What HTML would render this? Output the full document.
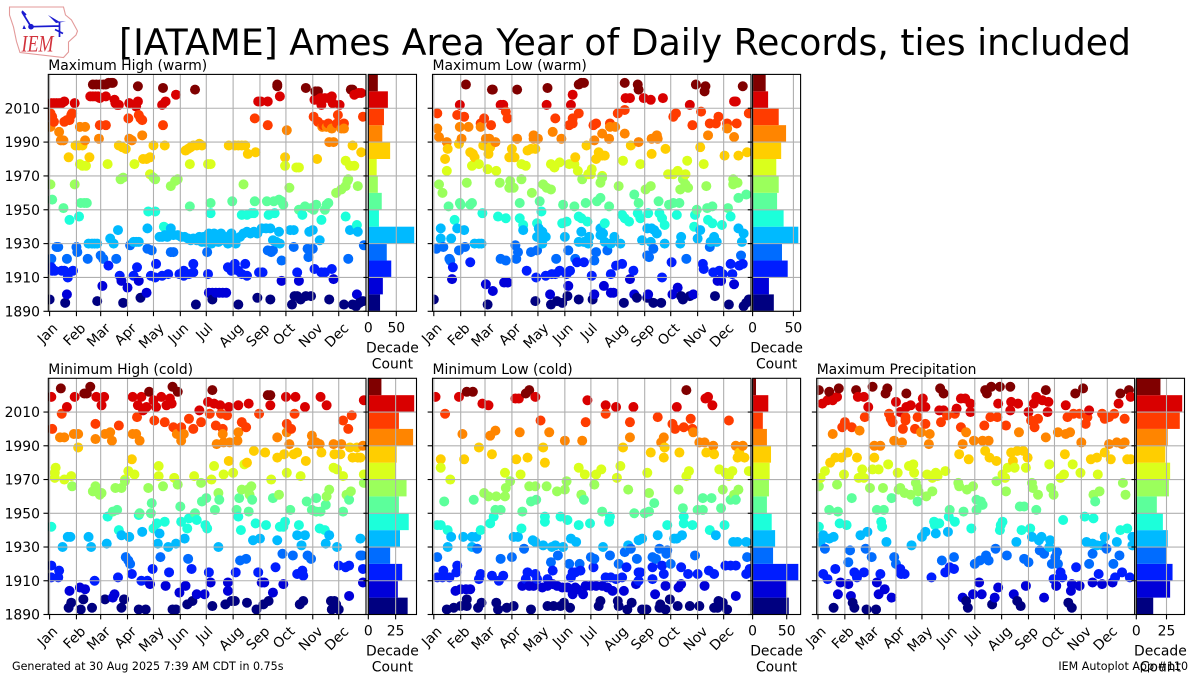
<!DOCTYPE html>
<html lang="en">
<head>
<meta charset="utf-8">
<title>[IATAME] Ames Area Year of Daily Records, ties included</title>
<style>
html,body{margin:0;padding:0;background:#fff;}
svg{display:block;font-family:"DejaVu Sans","Liberation Sans",sans-serif;}
</style>
</head>
<body>
<svg id="chart" xmlns="http://www.w3.org/2000/svg" width="1200" height="675" viewBox="0 0 1200 675">
<rect width="1200" height="675" fill="#fff"/>
<g>
<path d="M9.5 7L63.5 7L65.5 15L71.5 20L77.5 31L76 35L68.5 42L68.5 52L63.5 57.5L20 52.5L16.5 41.5L13.5 27L9.5 15Z" fill="#fff" stroke="#e39a9a" stroke-width="1.1"/>
<path d="M31 26.7L59 26M22 12L30 25M59.5 21.5L59.5 37M55 29.5L63 33.5M22 11L26 15" fill="none" stroke="#1a1ad0" stroke-width="1.7"/>
<path d="M48 15L59 21.5L66 21.5L56 23Z" fill="#1a1ad0"/>
<path d="M24 25L26 29L22.5 29Z" fill="#1a1ad0"/>
<circle cx="31" cy="26.7" r="2.8" fill="#1a1ad0"/>
<text x="21.5" y="51.5" textLength="32" lengthAdjust="spacingAndGlyphs" font-family="'Liberation Serif',serif" font-style="italic" font-size="23" fill="#d2323c">IEM</text>
</g>
<text x="625" y="55" text-anchor="middle" font-size="36.15" fill="#000">[IATAME] Ames Area Year of Daily Records, ties included</text>
<g id="panels"></g>
<text x="12" y="670" font-size="11.1" fill="#000">Generated at 30 Aug 2025 7:39 AM CDT in 0.75s</text>
<text x="1188" y="670" text-anchor="end" font-size="11.1" fill="#000">IEM Autoplot App #110</text>
</svg>
<script>
// Tick labels and category values
const monthLabels = ["Jan","Feb","Mar","Apr","May","Jun","Jul","Aug","Sep","Oct","Nov","Dec"];
const monthStartDays = [0,31,59,90,120,151,181,212,243,273,304,334];
const yearTicks = [1890,1910,1930,1950,1970,1990,2010];
const decadeStarts = [1890,1900,1910,1920,1930,1940,1950,1960,1970,1980,1990,2000,2010,2020];

// Decade histogram counts (same order as decadeStarts)
const maxHighDecadeCounts = [21,26,41,33,82,19,24,17,15,39,25,28,35,17];
const maxLowDecadeCounts = [26,20,43,36,56,38,30,32,29,35,41,32,19,16];
const minHighDecadeCounts = [36,27,31,20,29,37,28,35,25,26,41,28,42,12];
const minLowDecadeCounts = [53,49,67,30,33,28,21,24,25,27,21,15,23,5];
const maxPrecipDecadeCounts = [14,28,30,25,26,22,17,27,28,24,26,36,38,20];

// Count-axis ticks
const warmCountTicks = [0,50];
const narrowCountTicks = [0,25];

// Records as [day of year, year]
const maxHighRecords = [
[50,2024],[54,2024],[58,2024],[62,2024],[65,2024],[68,2025],[71,2025],[73,2025],[102,2023],[131,2022],[168,2021],[263,2024],[263,2023],[296,2022],[307,2020],[310,2020],[348,2021],[350,2021],
[146,2018],[47,2017],[50,2017],[53,2017],[56,2017],[58,2016],[65,2017],[75,2015],[76,2013],[78,2012],[80,2012],[2,2013],[5,2013],[8,2013],[11,2013],[14,2013],[17,2014],[29,2013],[92,2013],[102,2014],[100,2011],[130,2012],[134,2014],[241,2014],[244,2014],[252,2014],[266,2017],[306,2015],[310,2015],[314,2012],[313,2016],[318,2016],[322,2016],[326,2017],[327,2013],[335,2012],[352,2018],[357,2019],[360,2019],
[1,2007],[3,2005],[5,2002],[17,2002],[20,2003],[23,2003],[25,2006],[26,2007],[91,2004],[103,2006],[105,2004],[107,2003],[131,2000],[237,2004],[252,2000],[305,2005],[310,2002],[316,2000],[322,2001],[332,2001],[333,2006],[340,2001],[362,2005],[58,2000],[65,2000],
[1,1999],[11,1996],[13,1991],[16,1991],[35,1999],[41,1999],[41,1991],[57,1992],[92,1992],[95,1991],[107,1994],[274,1997],[323,1990],[328,1990],[326,1998],[337,1998],[340,1998],[320,1999],[315,1999],
[30,1988],[34,1988],[38,1988],[22,1981],[46,1981],[80,1988],[84,1987],[88,1986],[108,1980],[112,1980],[116,1981],[120,1988],[133,1988],[157,1985],[160,1986],[163,1987],[166,1988],[170,1988],[173,1989],[176,1988],[207,1988],[214,1988],[218,1988],[222,1988],[226,1988],[229,1983],[238,1984],[272,1981],[309,1980],[350,1988],[360,1984],
[35,1977],[38,1976],[42,1976],[67,1977],[98,1977],[162,1977],[183,1977],[186,1977],[272,1976],[285,1975],[288,1975],[342,1979],[347,1976],[352,1976],[116,1971],
[1,1965],[29,1965],[82,1968],[85,1969],[120,1969],[122,1968],[140,1964],[145,1967],[148,1968],[224,1965],[277,1963],[331,1960],[337,1962],[342,1964],[344,1967],[345,1968],[356,1964],
[3,1956],[16,1951],[36,1954],[40,1954],[43,1954],[162,1952],[186,1954],[211,1955],[237,1955],[251,1955],[259,1955],[265,1956],[268,1955],[270,1953],[288,1950],[295,1952],[302,1951],[305,1950],[308,1953],[318,1950],[320,1953],[322,1954],
[23,1944],[34,1946],[114,1949],[122,1949],[186,1948],[222,1947],[228,1947],[233,1948],[236,1948],[253,1947],[260,1948],[292,1947],[314,1944],[342,1946],[355,1941],[132,1940],
[45,1930],[49,1930],[52,1930],[55,1930],[70,1933],[74,1930],[79,1938],[97,1931],[100,1931],[103,1931],[113,1939],[127,1934],[130,1934],[133,1935],[136,1934],[140,1939],[143,1935],[148,1935],[152,1934],[156,1934],[160,1933],[163,1932],[166,1933],[170,1932],[173,1934],[176,1931],[178,1934],[180,1931],[184,1936],[184,1933],[187,1930],[190,1936],[192,1933],[195,1931],[198,1936],[198,1932],[202,1934],[206,1930],[206,1934],[210,1936],[212,1931],[215,1930],[215,1933],[220,1934],[224,1936],[228,1937],[232,1936],[236,1937],[240,1936],[245,1939],[250,1939],[255,1939],[265,1937],[258,1932],[262,1931],[266,1930],[278,1938],[282,1938],[300,1937],[304,1938],[312,1932],[347,1938],[356,1937],
[8,1928],[10,1928],[31,1928],[2,1921],[20,1921],[32,1925],[44,1921],[59,1923],[62,1921],[77,1921],[93,1929],[113,1927],[118,1926],[140,1925],[143,1925],[182,1925],[252,1926],[256,1925],[258,1926],[268,1920],[282,1928],[298,1927],[304,1927],[299,1922],[345,1921],[363,1929],
[2,1916],[3,1914],[6,1914],[14,1914],[17,1914],[21,1910],[27,1914],[68,1917],[81,1911],[97,1911],[101,1916],[117,1911],[122,1910],[123,1918],[130,1911],[137,1912],[150,1912],[155,1911],[155,1914],[161,1912],[166,1913],[166,1918],[183,1912],[206,1916],[210,1914],[214,1918],[218,1914],[222,1912],[226,1918],[228,1911],[242,1913],[246,1913],[306,1915],[314,1913],[318,1913],[326,1915],[328,1909],[286,1913],
[61,1905],[20,1900],[83,1908],[90,1904],[103,1908],[112,1901],[184,1901],[188,1901],[192,1901],[196,1901],[200,1901],[204,1901],[268,1908],[288,1908],[355,1900],
[0,1897],[18,1895],[55,1896],[85,1895],[105,1898],[169,1894],[188,1897],[218,1894],[240,1898],[255,1897],[280,1894],[283,1899],[286,1899],[290,1897],[296,1899],[302,1899],[323,1897],[340,1894],[350,1894],[354,1893],[358,1895],[362,1896]
];
const maxLowRecords = [
[37,2024],[67,2021],[68,2021],[96,2021],[131,2022],[167,2024],[170,2025],[173,2025],[220,2025],[235,2024],[236,2021],[302,2024],[313,2023],[312,2020],[356,2023],
[30,2012],[77,2012],[80,2012],[130,2012],[160,2018],[158,2012],[221,2016],[226,2016],[242,2016],[250,2015],[264,2016],[295,2012],[348,2014],[346,2014],
[4,2007],[27,2006],[35,2005],[83,2008],[85,2004],[58,2004],[54,2001],[66,2000],[140,2004],[160,2004],[160,2001],[167,2007],[156,2000],[187,2001],[184,2000],[203,2001],[212,2007],[220,2009],[276,2005],[279,2007],[298,2000],[308,2008],[318,2001],[325,2001],[328,2005],[338,2001],[349,2001],[363,2007],
[4,1998],[15,1990],[6,1993],[30,1999],[32,1992],[40,1999],[60,1992],[64,1992],[64,1991],[71,1990],[54,1999],[96,1992],[115,1994],[115,1992],[120,1992],[137,1996],[147,1992],[185,1991],[194,1995],[202,1992],[203,1999],[209,1999],[220,1995],[236,1990],[251,1992],[257,1994],[258,1992],[316,1994],[338,1998],[346,1993],
[16,1986],[29,1989],[13,1980],[42,1984],[45,1983],[47,1981],[57,1988],[63,1986],[63,1983],[65,1987],[87,1981],[90,1986],[93,1981],[108,1985],[112,1986],[117,1986],[163,1981],[176,1988],[187,1980],[190,1984],[194,1982],[197,1982],[227,1988],[251,1983],[267,1986],[307,1987],[335,1982],[351,1982],[361,1984],
[15,1973],[44,1976],[52,1977],[62,1974],[72,1973],[101,1977],[106,1976],[135,1977],[139,1975],[145,1978],[156,1977],[162,1977],[166,1973],[178,1971],[182,1974],[181,1971],[218,1979],[238,1977],[270,1971],[281,1973],[290,1971],[292,1979],[311,1977],[194,1970],[276,1971],
[6,1965],[10,1960],[38,1966],[76,1966],[88,1967],[87,1963],[92,1963],[101,1968],[113,1960],[126,1965],[130,1963],[135,1962],[171,1968],[192,1966],[194,1969],[213,1964],[244,1962],[250,1964],[284,1962],[287,1968],[290,1965],[293,1963],[314,1964],[345,1968],[345,1965],[350,1966],
[17,1952],[31,1953],[30,1954],[42,1953],[44,1954],[99,1954],[122,1955],[149,1953],[162,1952],[175,1954],[188,1955],[192,1957],[202,1952],[231,1959],[236,1954],[259,1955],[271,1953],[276,1954],[283,1954],[303,1950],[315,1951],[321,1952],[339,1951],[351,1957],[360,1959],
[24,1944],[56,1948],[74,1946],[83,1945],[99,1945],[103,1941],[119,1942],[124,1949],[148,1942],[153,1943],[167,1946],[170,1945],[177,1943],[197,1942],[217,1947],[220,1945],[225,1943],[235,1948],[238,1945],[247,1948],[260,1948],[263,1945],[266,1941],[280,1947],[301,1947],[300,1940],[316,1944],[321,1942],[332,1941],[342,1946],
[8,1939],[8,1933],[20,1933],[27,1939],[35,1938],[47,1930],[52,1930],[55,1930],[103,1938],[121,1939],[125,1937],[129,1934],[119,1934],[124,1932],[125,1930],[151,1934],[170,1937],[167,1931],[173,1931],[179,1934],[177,1931],[178,1930],[192,1939],[192,1935],[195,1936],[197,1931],[208,1934],[204,1930],[215,1930],[240,1932],[246,1939],[251,1939],[254,1938],[257,1936],[250,1931],[266,1930],[285,1934],[284,1930],[307,1938],[304,1933],[323,1934],[319,1931],[326,1931],[351,1939],[357,1936],[355,1931],
[3,1927],[11,1928],[29,1926],[36,1928],[18,1921],[19,1920],[42,1919],[77,1921],[83,1920],[94,1929],[97,1925],[95,1921],[112,1925],[119,1926],[141,1921],[155,1926],[163,1921],[173,1919],[187,1925],[185,1920],[200,1926],[217,1918],[246,1923],[253,1927],[248,1922],[291,1921],[318,1928],[354,1923],
[22,1916],[107,1914],[118,1910],[129,1911],[136,1912],[140,1912],[145,1914],[153,1912],[157,1914],[165,1919],[182,1911],[204,1912],[210,1917],[230,1914],[226,1909],[263,1910],[274,1919],[310,1918],[311,1915],[322,1913],[329,1914],[333,1912],[342,1918],[344,1912],[352,1917],[356,1918],
[21,1909],[60,1906],[68,1902],[81,1907],[85,1907],[155,1905],[196,1905],[204,1901],[207,1901],[281,1904],[327,1908],[331,1908],[346,1906],[134,1900],
[0,1897],[62,1894],[117,1896],[135,1894],[142,1896],[148,1895],[154,1899],[167,1897],[183,1897],[185,1900],[219,1895],[231,1900],[234,1898],[247,1900],[246,1898],[253,1895],[262,1895],[275,1900],[285,1899],[287,1897],[295,1899],[299,1900],[324,1899],[340,1894],[357,1893],[360,1895],[363,1897]
];
const minHighRecords = [
[13,2024],[43,2021],[40,2021],[47,2025],[115,2022],[142,2025],[148,2022],[188,2023],[252,2020],[255,2020],
[2,2019],[14,2009],[20,2013],[29,2019],[54,2019],[60,2014],[63,2019],[96,2019],[102,2014],[106,2019],[108,2011],[112,2013],[120,2017],[123,2013],[129,2019],[135,2014],[139,2018],[141,2015],[173,2011],[183,2016],[185,2009],[190,2015],[197,2014],[198,2009],[205,2008],[207,2013],[218,2014],[230,2015],[242,2009],[255,2014],[273,2019],[283,2009],[284,2019],[295,2013],[313,2019],[320,2014],[349,2008],[363,2017],
[3,2000],[53,2003],[80,2002],[101,2007],[121,2005],[133,2004],[143,2001],[152,2001],[161,2006],[166,2000],[175,2004],[192,2002],[200,2000],[222,2004],[227,2001],[274,2003],[279,2000],[339,2005],[345,2000],
[12,1995],[17,1995],[28,1997],[33,1997],[53,1994],[64,1997],[70,1998],[72,1993],[96,1997],[100,1997],[104,1993],[147,1997],[152,1993],[155,1997],[193,1991],[200,1997],[201,1992],[208,1992],[217,1993],[218,1998],[263,1995],[274,1998],[277,1991],[303,1991],[303,1996],[308,1992],[312,1991],[328,1991],[337,1991],[347,1989],[355,1989],[362,1990],
[33,1989],[95,1982],[228,1980],[207,1981],[236,1987],[249,1986],[263,1983],[271,1985],[282,1985],[286,1986],[296,1981],[314,1986],[329,1985],[336,1985],[350,1983],[356,1983],[359,1983],
[7,1977],[6,1974],[6,1971],[17,1970],[25,1972],[91,1975],[98,1973],[126,1978],[126,1972],[144,1971],[167,1972],[190,1978],[187,1970],[201,1973],[212,1974],[225,1979],[274,1974],[256,1970],[290,1972],[328,1977],[332,1976],[339,1972],[363,1973],[87,1970],
[26,1966],[50,1963],[53,1966],[54,1963],[58,1961],[60,1962],[76,1965],[83,1965],[87,1969],[114,1965],[131,1966],[148,1967],[175,1968],[195,1962],[222,1964],[229,1964],[233,1966],[231,1961],[265,1961],[308,1959],[320,1960],[323,1964],[343,1961],[348,1963],[363,1968],[181,1959],[176,1957],
[78,1952],[73,1951],[118,1956],[117,1950],[104,1950],[151,1954],[168,1950],[191,1952],[196,1958],[219,1959],[216,1952],[230,1951],[234,1958],[258,1959],[278,1952],[297,1957],[303,1952],[308,1951],[313,1951],[319,1955],[339,1951],[346,1958],
[2,1942],[67,1948],[80,1940],[103,1949],[120,1941],[124,1944],[133,1945],[152,1945],[161,1947],[159,1941],[170,1946],[180,1943],[182,1941],[218,1948],[221,1940],[238,1944],[250,1943],[266,1942],[270,1942],[272,1945],[288,1943],[312,1941],[318,1940],
[15,1930],[21,1936],[24,1936],[45,1936],[48,1930],[66,1932],[83,1937],[92,1936],[107,1939],[127,1938],[125,1932],[137,1930],[146,1932],[156,1935],[195,1930],[235,1934],[243,1935],[263,1934],[286,1937],[295,1937],[291,1931],[319,1932],[323,1937],[332,1930],[359,1935],
[2,1919],[88,1924],[91,1922],[93,1920],[128,1924],[160,1923],[220,1922],[227,1923],[269,1926],[281,1925],[298,1925],[302,1923],[359,1925],[361,1925],
[2,1912],[11,1916],[10,1912],[52,1910],[79,1912],[95,1914],[106,1910],[113,1910],[119,1917],[138,1915],[164,1917],[184,1915],[186,1909],[206,1909],[215,1915],[241,1915],[245,1909],[248,1909],[261,1918],[286,1914],[292,1916],[293,1913],[334,1919],[342,1918],[346,1919],[362,1917],[362,1909],
[23,1904],[35,1906],[41,1905],[39,1899],[64,1899],[75,1902],[73,1900],[86,1899],[116,1908],[134,1907],[150,1903],[157,1907],[170,1902],[179,1902],[206,1904],[258,1903],[270,1908],[346,1901],
[22,1894],[25,1897],[36,1893],[49,1894],[83,1894],[103,1893],[111,1893],[142,1893],[146,1893],[159,1896],[165,1898],[188,1895],[203,1896],[210,1898],[214,1898],[228,1897],[239,1893],[247,1896],[253,1898],[289,1896],[293,1898],[325,1898],[329,1898],[331,1896],[326,1893],[334,1893]
];
const minLowRecords = [
[38,2022],[45,2022],[106,2021],[110,2023],[291,2023],
[2,2019],[29,2019],[56,2015],[63,2014],[94,2018],[98,2018],[117,2019],[177,2017],[198,2014],[210,2013],[230,2013],[280,2013],[313,2018],[316,2019],[321,2014],
[13,2009],[123,2005],[175,2004],[198,2009],[226,2004],[258,2007],[275,2003],[288,2001],[296,2006],[340,2005],
[33,1997],[65,1996],[71,1999],[99,1998],[133,1998],[151,1993],[171,1993],[226,1995],[262,1992],[265,1995],[278,2000],[298,2000],[299,1998],[306,1992],[312,1992],[322,1990],[348,1990],[356,1990],
[8,1982],[35,1982],[52,1989],[67,1985],[95,1982],[108,1983],[126,1989],[128,1980],[218,1989],[250,1986],[266,1989],[265,1983],[283,1986],[314,1986],[323,1985],[350,1983],[358,1983],[352,1986],
[8,1977],[19,1970],[82,1974],[100,1973],[167,1977],[174,1973],[187,1973],[193,1976],[211,1971],[215,1978],[246,1974],[291,1972],[294,1975],[329,1976],[336,1974],[340,1972],[344,1975],[363,1975],
[58,1962],[63,1960],[72,1960],[82,1960],[83,1965],[88,1969],[110,1966],[117,1966],[130,1966],[142,1963],[151,1964],[153,1969],[170,1961],[185,1967],[224,1964],[248,1962],[282,1964],[333,1964],[346,1961],[351,1964],
[12,1957],[46,1958],[112,1957],[118,1958],[77,1952],[71,1952],[102,1951],[173,1958],[194,1951],[231,1950],[243,1950],[248,1951],[254,1956],[287,1953],[304,1952],[310,1952],[310,1959],[320,1959],[331,1953],[342,1958],[348,1958],
[4,1943],[8,1943],[16,1940],[54,1940],[65,1944],[69,1948],[101,1941],[128,1948],[128,1945],[146,1948],[154,1946],[167,1943],[180,1944],[202,1945],[203,1948],[269,1943],[288,1948],[288,1944],[298,1943],[318,1940],[335,1943],
[20,1936],[16,1930],[34,1936],[44,1936],[49,1936],[44,1930],[50,1929],[92,1936],[97,1936],[114,1934],[117,1933],[126,1931],[136,1930],[140,1931],[149,1930],[158,1935],[164,1933],[195,1930],[224,1931],[236,1934],[240,1935],[258,1937],[277,1935],[280,1935],[286,1937],[325,1937],[345,1933],[350,1933],[360,1933],
[4,1924],[77,1923],[90,1924],[104,1929],[135,1921],[143,1925],[156,1920],[168,1920],[181,1924],[185,1923],[203,1925],[213,1920],[220,1927],[227,1929],[234,1923],[252,1924],[256,1923],[260,1929],[269,1928],[268,1926],[273,1920],[301,1925],[361,1924],
[27,1919],[11,1916],[4,1912],[10,1912],[18,1912],[26,1915],[54,1914],[52,1911],[67,1913],[80,1913],[75,1910],[108,1915],[106,1911],[117,1914],[119,1911],[131,1911],[137,1916],[158,1912],[160,1915],[163,1915],[169,1916],[184,1918],[198,1912],[204,1912],[210,1911],[217,1912],[222,1918],[236,1915],[238,1915],[252,1918],[252,1911],[263,1919],[265,1914],[285,1918],[293,1914],[304,1914],[317,1916],[323,1914],[336,1919],[342,1919],[348,1919],[360,1914],[364,1917],
[25,1904],[31,1905],[37,1905],[42,1905],[102,1907],[110,1907],[115,1907],[125,1906],[131,1907],[137,1908],[142,1907],[148,1906],[154,1906],[163,1906],[160,1902],[165,1905],[172,1902],[175,1907],[181,1907],[187,1907],[194,1907],[200,1906],[206,1904],[219,1904],[233,1908],[236,1910],[255,1902],[267,1907],[282,1906],[285,1908],[312,1907],[348,1901],[38,1899],
[15,1893],[23,1894],[31,1895],[38,1895],[51,1894],[55,1897],[72,1897],[74,1893],[84,1894],[92,1895],[112,1893],[131,1895],[138,1895],[146,1895],[150,1897],[157,1894],[190,1895],[192,1898],[212,1898],[213,1895],[223,1893],[228,1897],[240,1893],[245,1893],[261,1896],[260,1894],[267,1893],[272,1899],[281,1895],[295,1895],[306,1895],[323,1894],[328,1898],[327,1894],[333,1897],[338,1893]
];
const maxPrecipRecords = [
[1,2023],[13,2022],[24,2024],[44,2023],[63,2025],[80,2024],[78,2021],[102,2021],[141,2024],[145,2021],[193,2023],[195,2021],[200,2025],[210,2025],[222,2025],[263,2023],[297,2021],[306,2024],[349,2021],[359,2023],
[5,2015],[11,2017],[17,2017],[22,2019],[46,2019],[53,2019],[58,2013],[90,2016],[95,2010],[102,2013],[107,2014],[118,2013],[121,2018],[124,2013],[140,2011],[145,2011],[160,2012],[165,2018],[170,2018],[176,2015],[176,2010],[208,2015],[222,2011],[223,2016],[231,2015],[243,2010],[249,2015],[252,2019],[259,2017],[266,2016],[265,2010],[286,2014],[313,2011],[347,2015],[361,2019],
[28,2001],[31,2004],[39,2001],[54,2007],[82,2009],[84,2006],[86,2004],[101,2007],[101,2005],[115,2007],[124,2003],[142,2004],[149,2008],[158,2009],[165,2001],[192,2002],[199,2007],[207,2007],[217,2002],[246,2005],[254,2006],[250,2001],[288,2007],[295,2009],[302,2009],[309,2003],[311,2007],[328,2009],[331,2006],[336,2007],[342,2009],[354,2006],
[48,1999],[17,1997],[65,1990],[72,1990],[88,1993],[97,1992],[98,2000],[112,2000],[119,1998],[129,1997],[128,1991],[167,1991],[171,1998],[180,1993],[190,1993],[197,1993],[232,1998],[263,1995],[277,1998],[286,1997],[291,1998],[304,1992],[336,1991],[345,1992],[351,1991],[354,1992],
[14,1980],[20,1983],[27,1983],[34,1986],[45,1983],[65,1983],[163,1985],[174,1982],[193,1987],[198,1983],[206,1981],[223,1986],[225,1981],[230,1987],[237,1987],[242,1983],[285,1985],[315,1982],[322,1983],[331,1986],[338,1982],[357,1982],[361,1982],
[3,1971],[8,1975],[30,1973],[47,1971],[51,1976],[53,1971],[63,1976],[70,1976],[81,1979],[92,1974],[105,1978],[110,1979],[111,1974],[126,1973],[132,1971],[136,1974],[138,1972],[147,1975],[213,1973],[216,1971],[219,1977],[227,1977],[240,1977],[267,1979],[280,1971],[284,1973],[294,1979],[303,1974],[323,1973],
[1,1966],[22,1967],[60,1965],[75,1965],[93,1964],[95,1965],[100,1962],[107,1961],[113,1968],[115,1965],[116,1963],[125,1960],[132,1963],[162,1968],[163,1966],[172,1964],[179,1966],[206,1969],[217,1963],[247,1968],[248,1965],[254,1961],[269,1965],[272,1961],[318,1961],[325,1963],[352,1968],[355,1961],
[13,1952],[23,1951],[39,1959],[68,1952],[76,1952],[85,1959],[115,1957],[152,1952],[168,1951],[183,1952],[183,1958],[188,1957],[190,1955],[233,1954],[238,1954],[252,1952],[320,1957],
[1,1942],[25,1944],[33,1943],[73,1945],[74,1942],[134,1945],[135,1943],[140,1944],[151,1948],[158,1945],[177,1941],[210,1940],[211,1943],[213,1945],[235,1940],[245,1941],[283,1946],[308,1948],[318,1947],[349,1940],[357,1941],
[6,1937],[13,1935],[18,1936],[3,1933],[8,1929],[49,1937],[57,1939],[79,1933],[108,1931],[120,1936],[124,1939],[136,1938],[150,1939],[229,1933],[247,1936],[255,1934],[258,1936],[268,1934],[267,1930],[310,1933],[317,1932],[322,1931],[328,1931],[331,1936],[345,1933],[363,1936],[363,1931],
[37,1928],[55,1929],[35,1921],[62,1924],[88,1924],[90,1920],[143,1922],[157,1924],[181,1920],[187,1922],[194,1925],[197,1922],[205,1929],[218,1925],[238,1923],[243,1921],[256,1928],[261,1926],[270,1920],[276,1927],[274,1924],[277,1920],[298,1918],[313,1920],[317,1926],[333,1929],[341,1920],[348,1925],
[6,1914],[11,1911],[20,1917],[26,1909],[35,1908],[42,1915],[45,1912],[53,1915],[72,1914],[68,1909],[95,1917],[96,1914],[100,1914],[131,1912],[147,1915],[152,1918],[157,1917],[186,1909],[272,1911],[280,1915],[282,1912],[324,1914],[317,1909],[328,1908],[340,1909],[343,1912],[351,1915],[360,1912],
[23,1902],[38,1901],[70,1902],[77,1905],[85,1900],[167,1900],[179,1902],[189,1902],[204,1900],[208,1906],[226,1902],[240,1907],[261,1900],[275,1907],[292,1904],[293,1908],[302,1907],
[18,1894],[40,1897],[42,1894],[56,1893],[67,1893],[171,1898],[173,1894],[201,1896],[230,1898],[234,1895],[289,1897],[293,1894]
];

const NS = 'http://www.w3.org/2000/svg';
const root = document.getElementById('panels');
const svgRoot = document.getElementById('chart');
const defs = document.createElementNS(NS, 'defs');
svgRoot.insertBefore(defs, svgRoot.firstChild);

function make(tag, attrs, parent) {
  const el = document.createElementNS(NS, tag);
  for (const k in attrs) el.setAttribute(k, attrs[k]);
  parent.appendChild(el);
  return el;
}
function lerpAnchors(a, x) {
  for (let i = 1; i < a.length; i++) {
    if (x <= a[i][0]) {
      return a[i-1][1] + (a[i][1] - a[i-1][1]) * (x - a[i-1][0]) / (a[i][0] - a[i-1][0]);
    }
  }
  return a[a.length-1][1];
}
function jet(x) {
  const r = lerpAnchors([[0,0],[.35,0],[.66,1],[.89,1],[1,.5]], x);
  const g = lerpAnchors([[0,0],[.125,0],[.375,1],[.64,1],[.91,0],[1,0]], x);
  const b = lerpAnchors([[0,.5],[.11,1],[.34,1],[.65,0],[1,0]], x);
  return 'rgb(' + Math.round(r*255) + ',' + Math.round(g*255) + ',' + Math.round(b*255) + ')';
}
function decadeColor(year) {
  const i = Math.max(0, Math.min(13, Math.floor((year - 1890) / 10)));
  return jet(i / 13);
}

const GRID = '#b0b0b0';
const TICK = 4.86;
const FONT = 13.9;

function drawPanel(p) {
  const g = make('g', {}, root);
  
  

  const yMin = 1890, yMax = 2030;
  const sy = v => p.y1 - (v - yMin) * (p.y1 - p.y0) / (yMax - yMin);
  const dayMin = -1.5, dayMax = 365.5;
  const sx = d => p.x0 + (d - dayMin) * (p.x1 - p.x0) / (dayMax - dayMin);
  const maxCount = Math.max.apply(null, p.counts) * 1.05;
  const sc = c => p.hx0 + c * (p.hx1 - p.hx0) / maxCount;

  const clipId = 'clip-' + p.key;
  const clip = make('clipPath', {id: clipId}, defs);
  make('rect', {x: p.x0, y: p.y0, width: p.x1 - p.x0, height: p.y1 - p.y0}, clip);

  const title = make('text', {x: p.x0, y: p.y0 - 4.4, 'font-size': FONT, fill: '#000'}, g);
  title.textContent = p.title;
  
  

  // points
  const dots = make('g', {'clip-path': 'url(#' + clipId + ')'}, g);
  
  
  p.records.slice().sort((a, b) => a[0] - b[0]).forEach(rec => {
    const c = make('circle', {cx: sx(rec[0]).toFixed(2), cy: sy(rec[1]).toFixed(2), r: 5, fill: decadeColor(rec[1])}, dots);
    
    
  });

  // main grid
  const grid = make('g', {stroke: GRID, 'stroke-width': 1.1, fill: 'none'}, g);
  
  
  monthStartDays.forEach(d => {
    make('line', {x1: sx(d), x2: sx(d), y1: p.y0, y2: p.y1}, grid);
  });
  yearTicks.forEach(v => {
    make('line', {x1: p.x0, x2: p.x1, y1: sy(v), y2: sy(v)}, grid);
  });

  // y ticks
  yearTicks.forEach(v => {
    const t = make('line', {x1: p.x0 - TICK, x2: p.x0, y1: sy(v), y2: sy(v), stroke: '#000', 'stroke-width': 1.1}, g);
    
    
    if (p.yLabels) {
      const lab = make('text', {x: p.x0 - TICK - 3.5, y: sy(v) + 5.1, 'text-anchor': 'end', 'font-size': FONT, fill: '#000'}, g);
      lab.textContent = String(v);
      
      
    }
    const ht = make('line', {x1: p.hx0 - TICK, x2: p.hx0, y1: sy(v), y2: sy(v), stroke: '#000', 'stroke-width': 1.1}, g);
    
    
  });

  // month ticks
  monthStartDays.forEach((d, i) => {
    const t = make('line', {x1: sx(d), x2: sx(d), y1: p.y1, y2: p.y1 + TICK, stroke: '#000', 'stroke-width': 1.1}, g);
    
    
    const lab = make('text', {'text-anchor': 'middle', 'dominant-baseline': 'central', 'font-size': FONT, fill: '#000'}, g);
    lab.textContent = monthLabels[i];
    
    
    const w = lab.getComputedTextLength();
    const cy = p.y1 + 10 + (w + 14) * 0.3536;
    const cx = sx(d) - 1.6;
    lab.setAttribute('x', cx);
    lab.setAttribute('y', cy);
    lab.setAttribute('transform', 'rotate(-45 ' + cx + ' ' + cy + ')');
  });

  const frame = make('rect', {x: p.x0, y: p.y0, width: p.x1 - p.x0, height: p.y1 - p.y0, fill: 'none', stroke: '#000', 'stroke-width': 1.1}, g);
  
  

  // histogram
  const hist = make('g', {}, g);
  
  
  decadeStarts.forEach((dec, i) => {
    const top = sy(dec + 10), bottom = sy(dec);
    const bar = make('rect', {x: p.hx0, y: top, width: sc(p.counts[i]) - p.hx0, height: bottom - top, fill: decadeColor(dec)}, hist);
    
    
  });
  const hgrid = make('g', {stroke: GRID, 'stroke-width': 1.1}, hist);
  
  
  yearTicks.forEach(v => {
    make('line', {x1: p.hx0, x2: p.hx1, y1: sy(v), y2: sy(v)}, hgrid);
  });
  p.countTicks.forEach(c => {
    make('line', {x1: sc(c), x2: sc(c), y1: p.y0, y2: p.y1}, hgrid);
    const t = make('line', {x1: sc(c), x2: sc(c), y1: p.y1, y2: p.y1 + TICK, stroke: '#000', 'stroke-width': 1.1}, hist);
    
    
    const lab = make('text', {x: sc(c), y: p.y1 + 21.2, 'text-anchor': 'middle', 'font-size': FONT, fill: '#000'}, hist);
    lab.textContent = String(c);
    
    
  });
  const hframe = make('rect', {x: p.hx0, y: p.y0, width: p.hx1 - p.hx0, height: p.y1 - p.y0, fill: 'none', stroke: '#000', 'stroke-width': 1.1}, hist);
  
  

  const xMid = (p.hx0 + p.hx1) / 2;
  const l1 = make('text', {x: xMid, y: p.y1 + 41, 'text-anchor': 'middle', 'font-size': FONT, fill: '#000'}, hist);
  l1.textContent = 'Decade';
  
  
  const l2 = make('text', {x: xMid, y: p.y1 + 57, 'text-anchor': 'middle', 'font-size': FONT, fill: '#000'}, hist);
  l2.textContent = 'Count';
  
  
}

drawPanel({key:'maximum-high', title:'Maximum High (warm)', records:maxHighRecords, counts:maxHighDecadeCounts, countTicks:warmCountTicks, yLabels:true, x0:48.3, x1:366, hx0:368.3, hx1:416.5, y0:74.4, y1:311.3});
drawPanel({key:'maximum-low', title:'Maximum Low (warm)', records:maxLowRecords, counts:maxLowDecadeCounts, countTicks:warmCountTicks, yLabels:false, x0:432.5, x1:751, hx0:752.6, hx1:800.6, y0:74.4, y1:311.3});
drawPanel({key:'minimum-high', title:'Minimum High (cold)', records:minHighRecords, counts:minHighDecadeCounts, countTicks:narrowCountTicks, yLabels:true, x0:48.3, x1:366, hx0:368.3, hx1:416.5, y0:378.3, y1:614.5});
drawPanel({key:'minimum-low', title:'Minimum Low (cold)', records:minLowRecords, counts:minLowDecadeCounts, countTicks:warmCountTicks, yLabels:false, x0:432.5, x1:751, hx0:752.6, hx1:800.6, y0:378.3, y1:614.5});
drawPanel({key:'maximum-precipitation', title:'Maximum Precipitation', records:maxPrecipRecords, counts:maxPrecipDecadeCounts, countTicks:narrowCountTicks, yLabels:false, x0:816.7, x1:1134.6, hx0:1136.3, hx1:1184.5, y0:378.3, y1:614.5});
</script>
</body>
</html>
